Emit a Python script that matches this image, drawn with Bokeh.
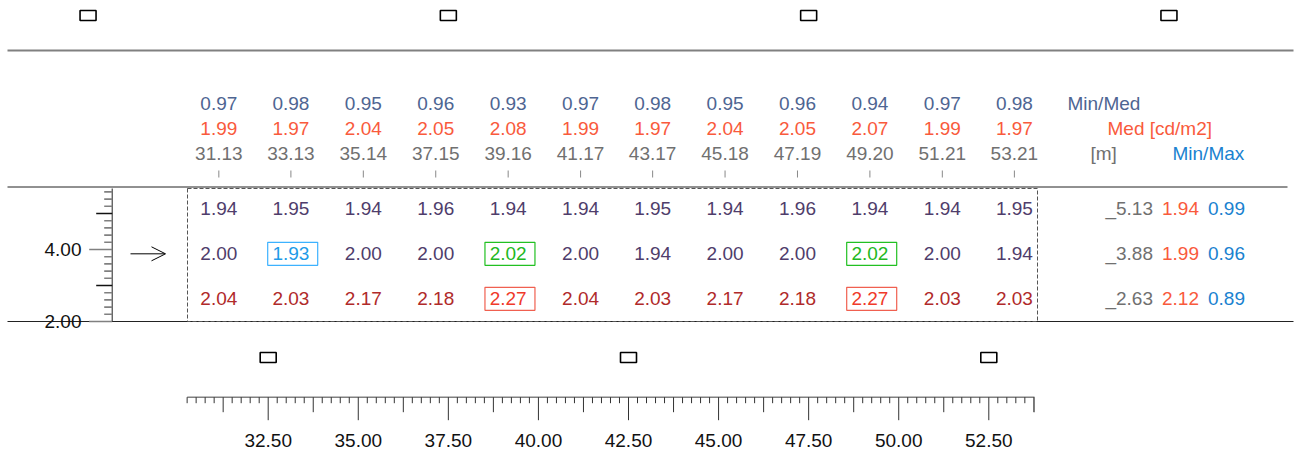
from bokeh.plotting import figure
from bokeh.models import Range1d, Arrow, OpenHead
from bokeh.core.properties import value
from bokeh.embed import file_html
from bokeh.resources import INLINE

# ---------------- data ----------------
col_x = [31.13, 33.13, 35.14, 37.15, 39.16, 41.17, 43.17, 45.18, 47.19, 49.20, 51.21, 53.21]
min_med = [0.97, 0.98, 0.95, 0.96, 0.93, 0.97, 0.98, 0.95, 0.96, 0.94, 0.97, 0.98]
med = [1.99, 1.97, 2.04, 2.05, 2.08, 1.99, 1.97, 2.04, 2.05, 2.07, 1.99, 1.97]
row_y = [5.13, 3.88, 2.63]
row1 = [1.94, 1.95, 1.94, 1.96, 1.94, 1.94, 1.95, 1.94, 1.96, 1.94, 1.94, 1.95]
row2 = [2.00, 1.93, 2.00, 2.00, 2.02, 2.00, 1.94, 2.00, 2.00, 2.02, 2.00, 1.94]
row3 = [2.04, 2.03, 2.17, 2.18, 2.27, 2.04, 2.03, 2.17, 2.18, 2.27, 2.03, 2.03]
row_med = [1.94, 1.99, 2.12]
row_minmax = [0.99, 0.96, 0.89]
# (column index, row index, kind)
highlights = [(1, 1, "min"), (4, 1, "max"), (9, 1, "max"), (4, 2, "peak"), (9, 2, "peak")]
lum_top_x = [27.5, 37.5, 47.5, 57.5]
lum_top_y = 10.5
lum_bot_x = [32.5, 42.5, 52.5]
lum_bot_y = 1.0
bottom_major = [32.5, 35.0, 37.5, 40.0, 42.5, 45.0, 47.5, 50.0, 52.5]
left_major = [2.0, 4.0]

# ---------------- layout helpers ----------------
SX, SY = 36.03, 36.0
def px2x(X):
    return 32.5 + (X - 267.7) / SX
def px2y(Y):
    return 2.0 + (321.0 - Y) / SY

W, H = 1300, 453
x0 = px2x(0)
y0 = px2y(453)
p = figure(width=W, height=H, output_backend="svg", toolbar_location=None,
           x_range=Range1d(x0, x0 + W / SX), y_range=Range1d(y0, y0 + H / SY),
           x_axis_location=None, y_axis_location=None, tools="")
p.min_border = 0
p.min_border_left = p.min_border_right = p.min_border_top = p.min_border_bottom = 0
p.outline_line_color = None
p.xgrid.visible = False
p.ygrid.visible = False
p.background_fill_color = "white"
p.border_fill_color = "white"

FONT = value("Liberation Sans")
FS = value("19px")
FSG = value("19px")

C_MINMED = "#4E6592"
C_MED = "#F95A3C"
C_GRAY = "#707070"
C_GRID = "#4F3D6B"
C_GRID3 = "#B02A2A"
C_BLUE = "#1A82D0"
HL = {"min": ("#1E9BE8", "#3DB2FF"), "max": ("#22B822", "#22C022"), "peak": ("#F03A2A", "#F06050")}

def fmt(v):
    return f"{v:.2f}"

# ---------------- horizontal lines ----------------
p.segment(x0=[px2x(7)], y0=[px2y(50)], x1=[px2x(1293)], y1=[px2y(50)], line_color="#808080", line_width=2)
p.segment(x0=[px2x(7)], y0=[px2y(186.5)], x1=[px2x(1287)], y1=[px2y(186.5)], line_color="#222222", line_width=1)
p.segment(x0=[px2x(7)], y0=[2.0], x1=[px2x(1293)], y1=[2.0], line_color="#222222", line_width=1)

# ---------------- luminaires ----------------
p.rect(x=lum_top_x, y=[lum_top_y] * len(lum_top_x), width=16, height=10, width_units="screen",
       height_units="screen", fill_color="white", line_color="black", line_width=1.6)
p.rect(x=lum_bot_x, y=[lum_bot_y] * len(lum_bot_x), width=16, height=10, width_units="screen",
       height_units="screen", fill_color="white", line_color="black", line_width=1.6)

# ---------------- field (dashed) ----------------
fx0, fx1 = px2x(187), px2x(1037)
fy0, fy1 = 2.0, px2y(188)
p.quad(left=[fx0], right=[fx1], bottom=[fy0], top=[fy1], fill_color=None,
       line_color="#555555", line_dash="4 2", line_width=1)

# ---------------- top labels ----------------
p.text(x=col_x, y=[px2y(102.5)] * 12, text=[fmt(v) for v in min_med], text_color=C_MINMED,
       text_font=FONT, text_font_size=FS, text_align="center", text_baseline="middle")
p.text(x=col_x, y=[px2y(127.5)] * 12, text=[fmt(v) for v in med], text_color=C_MED,
       text_font=FONT, text_font_size=FS, text_align="center", text_baseline="middle")
p.text(x=col_x, y=[px2y(153.3)] * 12, text=[fmt(v) for v in col_x], text_color=C_GRAY,
       text_font=FONT, text_font_size=FS, text_align="center", text_baseline="middle")
p.segment(x0=col_x, y0=[px2y(170)] * 12, x1=col_x, y1=[px2y(177)] * 12, line_color="#888888", line_width=1)

p.text(x=[px2x(1067)], y=[px2y(102.5)], text=["Min/Med"], text_color=C_MINMED,
       text_font=FONT, text_font_size=FS, text_align="left", text_baseline="middle")
p.text(x=[px2x(1107)], y=[px2y(127.5)], text=["Med [cd/m2]"], text_color=C_MED,
       text_font=FONT, text_font_size=FS, text_align="left", text_baseline="middle")
p.text(x=[px2x(1090)], y=[px2y(153.3)], text=["[m]"], text_color=C_GRAY,
       text_font=FONT, text_font_size=FS, text_align="left", text_baseline="middle")
p.text(x=[px2x(1172)], y=[px2y(153.3)], text=["Min/Max"], text_color=C_BLUE,
       text_font=FONT, text_font_size=FS, text_align="left", text_baseline="middle")

# ---------------- grid values ----------------
rows = [row1, row2, row3]
row_colors = [C_GRID, C_GRID, C_GRID3]
hl_map = {(c, r): k for c, r, k in highlights}
for r, (vals, ry) in enumerate(zip(rows, row_y)):
    cols = [HL[hl_map[(c, r)]][0] if (c, r) in hl_map else row_colors[r] for c in range(12)]
    p.text(x=col_x, y=[ry] * 12, text=[fmt(v) for v in vals], text_color=cols,
           text_font=FONT, text_font_size=FSG, text_align="center", text_baseline="middle")

for c, r, k in highlights:
    p.rect(x=[col_x[c] + 0.05], y=[row_y[r]], width=50, height=23, width_units="screen",
           height_units="screen", fill_color=None, line_color=HL[k][1], line_width=1.2)

# ---------------- right side row summary ----------------
p.text(x=[px2x(1152.5)] * 3, y=row_y, text=["_" + fmt(v) for v in row_y], text_color=C_GRAY,
       text_font=FONT, text_font_size=FS, text_align="right", text_baseline="middle")
p.text(x=[px2x(1161.5)] * 3, y=row_y, text=[fmt(v) for v in row_med], text_color=C_MED,
       text_font=FONT, text_font_size=FS, text_align="left", text_baseline="middle")
p.text(x=[px2x(1207.5)] * 3, y=row_y, text=[fmt(v) for v in row_minmax], text_color=C_BLUE,
       text_font=FONT, text_font_size=FS, text_align="left", text_baseline="middle")

# ---------------- arrow ----------------
p.add_layout(Arrow(end=OpenHead(size=14, line_color="black", line_width=1),
                   x_start=px2x(130), y_start=row_y[1], x_end=px2x(165), y_end=row_y[1],
                   line_color="black", line_width=1))

# ---------------- left ruler ----------------
rx = px2x(111.7)
ry_top = px2y(188)
p.segment(x0=[rx], y0=[2.0], x1=[rx], y1=[ry_top], line_color="#222222", line_width=1)
n = int(round((ry_top - 2.0) / 0.2))
ty, tlen, tcol = [], [], []
for i in range(n + 1):
    yv = 2.0 + 0.2 * i
    if i % 10 == 0:
        L, col = 23, "#808080"
    elif i % 5 == 0:
        L, col = 16, "#111111"
    else:
        L, col = 8, "#808080"
    ty.append(yv)
    tlen.append(L)
    tcol.append(col)
p.segment(x0=[rx - L / SX for L in tlen], y0=ty, x1=[rx] * len(ty), y1=ty, line_color=tcol, line_width=1.6)
p.text(x=[px2x(81)] * len(left_major), y=left_major, text=[fmt(v) for v in left_major], text_color="#111111",
       text_font=FONT, text_font_size=FS, text_align="right", text_baseline="alphabetic")

# ---------------- bottom ruler ----------------
by = px2y(396.7)
bx0, bx1 = px2x(186.7), px2x(1034)
p.segment(x0=[bx0], y0=[by], x1=[bx1], y1=[by], line_color="#808080", line_width=1.5)
bt_x, bt_len, bt_col = [], [], []
k0 = int(round(bx0 / 0.25))
k1 = int(round(bx1 / 0.25))
for k in range(k0, k1 + 1):
    xv = k * 0.25
    if xv > bx1 + 1e-6:
        break
    if k % 10 == 0:
        L, col = 23, "#333333"
    elif k % 5 == 0:
        L, col = 15, "#333333"
    else:
        L, col = 6, "#333333"
    bt_x.append(xv)
    bt_len.append(L)
    bt_col.append(col)
bt_x.append(bx1)
bt_len.append(15)
bt_col.append("#808080")
p.segment(x0=bt_x, y0=[by] * len(bt_x), x1=bt_x, y1=[by - L / SY for L in bt_len], line_color=bt_col, line_width=1)
p.text(x=bottom_major, y=[px2y(439.5)] * len(bottom_major), text=[fmt(v) for v in bottom_major],
       text_color="#111111", text_font=FONT, text_font_size=FS, text_align="center", text_baseline="middle")

open("out.html", "w").write(file_html(p, INLINE))
